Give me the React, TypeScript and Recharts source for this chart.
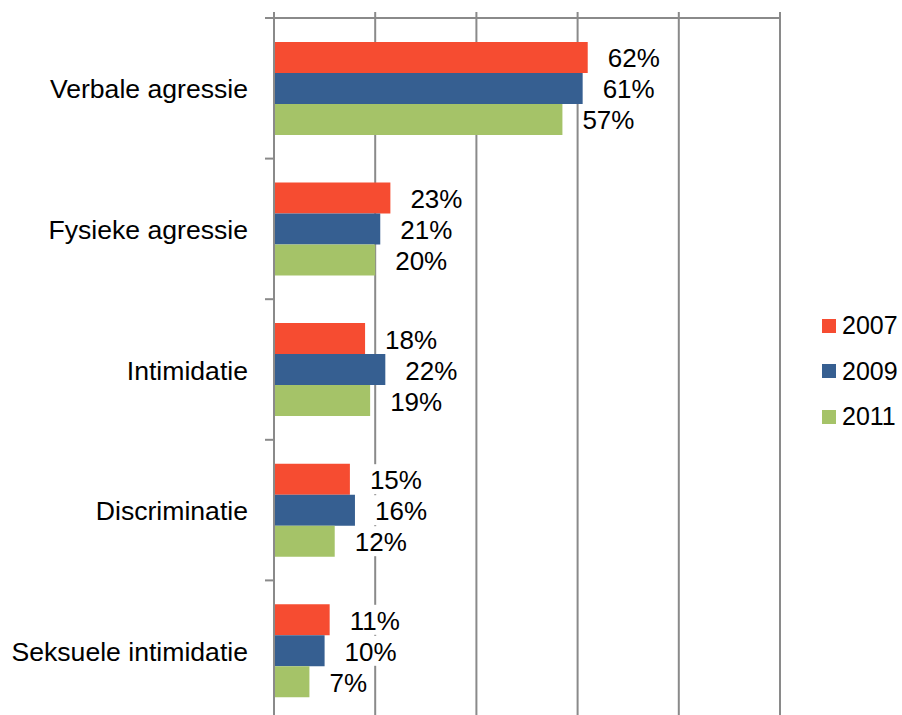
import React from 'react';
import { BarChart, Bar, XAxis, YAxis, CartesianGrid, LabelList, Legend } from 'recharts';

const categories = [
    'Verbale agressie',
    'Fysieke agressie',
    'Intimidatie',
    'Discriminatie',
    'Seksuele intimidatie',
];
const values2007 = [62, 23, 18, 15, 11];
const values2009 = [61, 21, 22, 16, 10];
const values2011 = [57, 20, 19, 12, 7];
const xTicks = [0, 20, 40, 60, 80, 100];

const series = [
    { key: 'y2007', name: '2007', color: '#F64C31' },
    { key: 'y2009', name: '2009', color: '#365F91' },
    { key: 'y2011', name: '2011', color: '#A5C368' },
];

const chartData = categories.map((name, i) => ({
    name,
    y2007: values2007[i],
    y2009: values2009[i],
    y2011: values2011[i],
}));

const FONT = '"Liberation Sans", Arial, sans-serif';
const GRID = '#8A8A8A';
const WIDTH = 902;
const HEIGHT = 721;
const TOP = 18;
const AXIS_LEFT = 274;
const BAND = (HEIGHT - TOP) / categories.length;

// category label plus a small tick mark at the top edge of each band (Excel style)
function CategoryTick(props: any) {
    const { y, payload } = props;
    const edge = y - BAND / 2;
    return (
        <g>
            <line x1={AXIS_LEFT - 9} x2={AXIS_LEFT} y1={edge} y2={edge} stroke={GRID} strokeWidth={2} />
            <text
                x={AXIS_LEFT - 26}
                y={y + 1}
                textAnchor="end"
                dominantBaseline="central"
                fontFamily={FONT}
                fontSize={26.6}
                fill="#000"
            >
                {payload.value}
            </text>
        </g>
    );
}

// percentage label with a white box so the gridlines don't cross it
function ValueLabel(props: any) {
    const { x, y, width, height, value } = props;
    const tx = x + width + 20;
    const cy = y + height / 2;
    const w = String(value).length * 14.5 + 22;
    return (
        <g>
            <rect x={tx - 3} y={cy - 15} width={w + 6} height={30} fill="#fff" />
            <text
                x={tx}
                y={cy + 1}
                dominantBaseline="central"
                fontFamily={FONT}
                fontSize={26}
                fill="#000"
            >
                {value}%
            </text>
        </g>
    );
}

function LegendBox() {
    return (
        <div style={{ fontFamily: FONT, fontSize: 25, color: '#000' }}>
            {series.map((s) => (
                <div key={s.key} style={{ display: 'flex', alignItems: 'center', height: 45.5 }}>
                    <span style={{ width: 14, height: 14, background: s.color, marginRight: 6 }} />
                    <span>{s.name}</span>
                </div>
            ))}
        </div>
    );
}

export default function App() {
    return (
        <div style={{ position: 'relative', width: WIDTH, height: 715, overflow: 'hidden' }}>
            <style>{'body{margin:0;overflow:hidden;}'}</style>
            <BarChart
                width={WIDTH}
                height={HEIGHT}
                data={chartData}
                layout="vertical"
                margin={{ top: 0, right: 122, bottom: 0, left: 0 }}
                barCategoryGap="17%"
                barGap={0}
            >
                <CartesianGrid horizontal={false} vertical stroke={GRID} strokeWidth={2} />
                <XAxis
                    type="number"
                    orientation="top"
                    domain={[0, 100]}
                    ticks={xTicks}
                    interval={0}
                    height={TOP}
                    tickFormatter={() => ''}
                    tickSize={6}
                    axisLine={{ stroke: GRID, strokeWidth: 2 }}
                    tickLine={{ stroke: GRID, strokeWidth: 2 }}
                />
                <YAxis
                    type="category"
                    dataKey="name"
                    width={AXIS_LEFT}
                    axisLine={{ stroke: GRID, strokeWidth: 2 }}
                    tickLine={false}
                    tick={<CategoryTick />}
                    interval={0}
                />
                <Legend
                    layout="horizontal"
                    verticalAlign="middle"
                    content={<LegendBox />}
                    wrapperStyle={{ left: 822, top: 303, width: 80 }}
                />
                {series.map((s) => (
                    <Bar key={s.key} dataKey={s.key} name={s.name} fill={s.color} isAnimationActive={false}>
                        <LabelList dataKey={s.key} content={<ValueLabel />} />
                    </Bar>
                ))}
            </BarChart>
        </div>
    );
}
